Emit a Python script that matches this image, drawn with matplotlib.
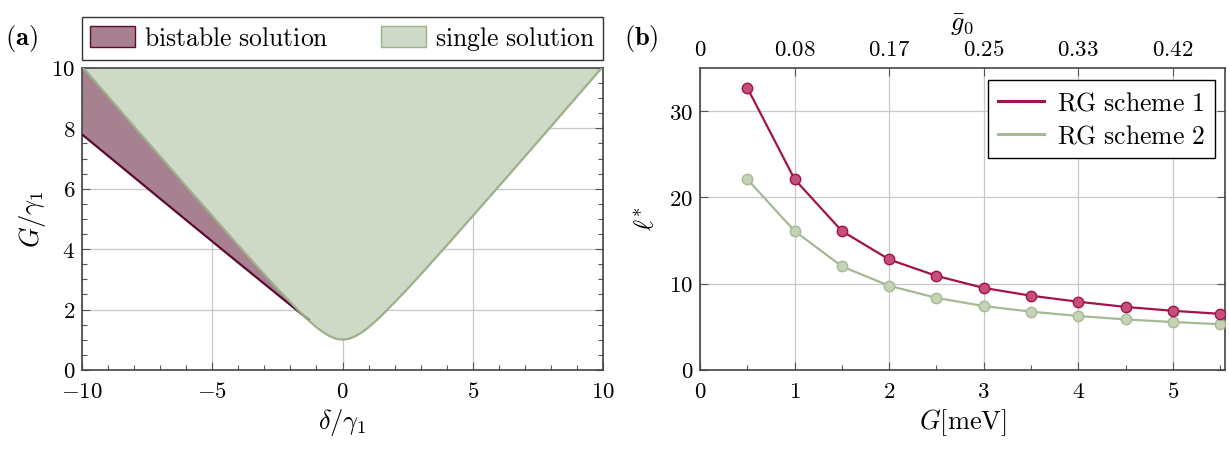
import matplotlib
matplotlib.use('Agg')
import matplotlib.pyplot as plt
import matplotlib.patches as mpatches
from matplotlib.lines import Line2D
import numpy as np

plt.rcParams['mathtext.fontset'] = 'cm'
plt.rcParams['font.family'] = 'serif'
plt.rcParams['font.serif'] = ['DejaVu Serif']
FS = 16.5      # tick labels
FS_LAB = 19    # axis labels
FS_LEG = 18.5  # legends

# ---- panel (a) data
delta_single = [-10, -9, -8, -7, -6, -5, -4, -3, -2.5, -2, -1.5, -1.25, -1, -0.75, -0.5, -0.25,
                0, 0.25, 0.5, 0.75, 1, 1.25, 1.5, 2, 2.5, 3, 4, 5, 6, 7, 8, 9, 10]
G_single = [10.05, 9.06, 8.06, 7.07, 6.08, 5.10, 4.12, 3.16, 2.69, 2.24, 1.80, 1.60, 1.41, 1.25, 1.12, 1.03,
            1.00, 1.03, 1.12, 1.25, 1.41, 1.60, 1.80, 2.24, 2.69, 3.16, 4.12, 5.10, 6.08, 7.07, 8.06, 9.06, 10.05]
delta_bi = [-10, -8, -6, -4, -3, -2, -1.3]
G_bi_low = [7.80, 6.38, 4.96, 3.55, 2.85, 2.15, 1.66]
G_bi_up = [10.05, 8.06, 6.08, 4.12, 3.16, 2.24, 1.64]

# ---- panel (b) data
G_meV = [0.5, 1.0, 1.5, 2.0, 2.5, 3.0, 3.5, 4.0, 4.5, 5.0, 5.5]
ell_rg1 = [32.7, 22.1, 16.1, 12.8, 10.9, 9.5, 8.6, 7.9, 7.3, 6.85, 6.5]
ell_rg2 = [22.1, 16.1, 12.0, 9.75, 8.35, 7.4, 6.75, 6.25, 5.85, 5.55, 5.3]
g0_labels = ['0', '0.08', '0.17', '0.25', '0.33', '0.42']

c_bi_fill = '#a7818f'
c_bi_edge = '#5c0a32'
c_si_fill = '#cfd9c7'
c_si_edge = '#9bb08b'
c_rg1 = '#a3124a'
c_rg1_face = '#c44f7a'
c_rg2 = '#a5b995'
c_rg2_face = '#c4d2b6'


def mtext(s):
    return r'$\mathrm{%s}$' % s.replace(' ', r'\ ')


def style_ticks(ax):
    ax.tick_params(which='both', direction='in', top=False, right=True, labelsize=FS)
    ax.tick_params(axis='x', pad=8)
    ax.tick_params(axis='y', pad=5)
    ax.tick_params(which='major', length=6, width=0.8, color='#555555')
    ax.tick_params(which='minor', length=3.5, width=0.8, color='#555555')
    for sp in ax.spines.values():
        sp.set_color('#444444')
        sp.set_linewidth(1.2)


fig = plt.figure(figsize=(12.29, 4.5), dpi=100)

# ================= (a)
ax1 = fig.add_axes([0.0667, 0.178, 0.424, 0.671])
ax1.fill_between(delta_bi, G_bi_low, G_bi_up, color=c_bi_fill, lw=0, zorder=2)
ax1.plot(delta_bi, G_bi_low, color=c_bi_edge, lw=1.6, zorder=3)
ax1.fill_between(delta_single, G_single, 10, color=c_si_fill, lw=0, zorder=2)
ax1.plot(delta_single, G_single, color=c_si_edge, lw=1.6, zorder=3)

ax1.set_xlim(-10, 10)
ax1.set_ylim(0, 10)
ax1.set_xticks([-10, -5, 0, 5, 10])
ax1.set_xticklabels([r'$-10$', r'$-5$', r'$0$', r'$5$', r'$10$'])
ax1.set_yticks([0, 2, 4, 6, 8, 10])
ax1.set_yticklabels([r'$%d$' % v for v in [0, 2, 4, 6, 8, 10]])
ax1.set_xticks(np.arange(-10, 11, 1), minor=True)
ax1.set_yticks(np.arange(0, 10.5, 0.5), minor=True)
ax1.grid(which='major', color='#c8c8c8', lw=0.9, zorder=1)
ax1.set_axisbelow(True)
style_ticks(ax1)
ax1.set_xlabel(r'$\delta/\gamma_1$', fontsize=FS_LAB, labelpad=3)
ax1.set_ylabel(r'$G/\gamma_1$', fontsize=FS_LAB, labelpad=2)

handles_a = [mpatches.Patch(facecolor=c_bi_fill, edgecolor=c_bi_edge, label=mtext('bistable solution')),
             mpatches.Patch(facecolor=c_si_fill, edgecolor=c_si_edge, label=mtext('single solution'))]
leg_a = ax1.legend(handles=handles_a, ncol=2, loc='lower left', bbox_to_anchor=(0, 1.025, 1, 0.2),
                   mode='expand', fontsize=FS_LEG, frameon=True, fancybox=False, borderaxespad=0,
                   handlelength=1.75, handleheight=0.9, handletextpad=0.35, columnspacing=2.0,
                   borderpad=0.3)
leg_a.get_frame().set_edgecolor('black')
leg_a.get_frame().set_linewidth(1.0)

fig.text(0.004, 0.9, r'$\mathbf{(a)}$', fontsize=FS_LAB)

# ================= (b)
ax2 = fig.add_axes([0.5696, 0.178, 0.427, 0.671])
ax2.plot(G_meV, ell_rg1, color=c_rg1, lw=1.6, marker='o', ms=7.5,
         mfc=c_rg1_face, mec=c_rg1, mew=1.0, zorder=4)
ax2.plot(G_meV, ell_rg2, color=c_rg2, lw=1.6, marker='o', ms=7.5,
         mfc=c_rg2_face, mec=c_rg2, mew=1.0, zorder=3)
ax2.set_xlim(0, 5.55)
ax2.set_ylim(0, 35)
ax2.set_xticks([0, 1, 2, 3, 4, 5])
ax2.set_xticklabels([r'$%d$' % v for v in range(6)])
ax2.set_xticks(np.arange(0, 5.6, 0.5), minor=True)
ax2.set_yticks([0, 10, 20, 30])
ax2.set_yticklabels([r'$%d$' % v for v in [0, 10, 20, 30]])
ax2.grid(which='major', color='#c8c8c8', lw=0.9, zorder=1)
ax2.set_axisbelow(True)
style_ticks(ax2)
ax2.set_xlabel(r'$G[\mathrm{meV}]$', fontsize=FS_LAB, labelpad=3)
ax2.set_ylabel(r'$\ell^{*}$', fontsize=FS_LAB, labelpad=8)

ax2t = ax2.twiny()
ax2t.set_xlim(ax2.get_xlim())
ax2t.set_xticks([0, 1, 2, 3, 4, 5])
ax2t.set_xticklabels([r'$%s$' % s for s in g0_labels])
ax2t.tick_params(direction='in', length=6, labelsize=FS, pad=5, color='#555555')
for sp in ax2t.spines.values():
    sp.set_visible(False)
ax2t.set_xlabel(r'$\bar{g}_0$', fontsize=FS_LAB, labelpad=6)

handles_b = [Line2D([], [], color=c_rg1, lw=2.2, label=mtext('RG scheme 1')),
             Line2D([], [], color=c_rg2, lw=2.2, label=mtext('RG scheme 2'))]
leg_b = ax2.legend(handles=handles_b, loc='upper right', fontsize=FS_LEG, frameon=True,
                   fancybox=False, framealpha=1, handlelength=1.8, handletextpad=0.5,
                   borderpad=0.4, labelspacing=0.3, borderaxespad=0,
                   bbox_to_anchor=(0.981, 0.96))
leg_b.get_frame().set_edgecolor('black')
leg_b.get_frame().set_linewidth(1.0)

fig.text(0.508, 0.9, r'$\mathbf{(b)}$', fontsize=FS_LAB)

fig.savefig('out.png', dpi=100)
plt.close('all')
